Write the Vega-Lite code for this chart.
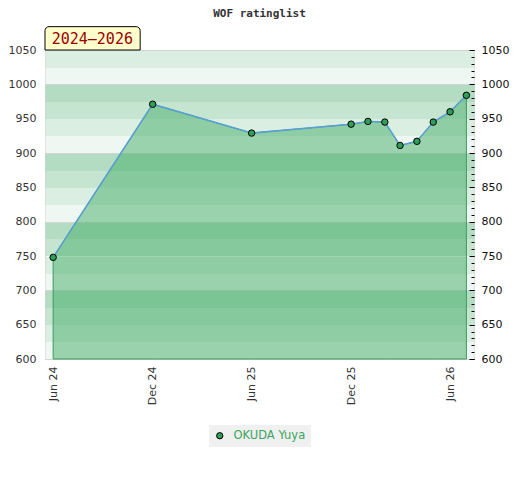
{
  "$schema": "https://vega.github.io/schema/vega-lite/v6.json",
  "width": 429,
  "height": 309,
  "autosize": "none",
  "padding": {"left": 45, "top": 50, "right": 46, "bottom": 121},
  "background": "white",
  "config": {
    "view": {"stroke": "#d0d0d0"},
    "font": "DejaVu Sans",
    "axisX": {
      "format": "%b %y",
      "labelAngle": -90,
      "labelFont": "DejaVu Sans",
      "labelFontSize": 11,
      "labelColor": "#333333",
      "labelPadding": 7,
      "ticks": false,
      "domain": false,
      "grid": false,
      "title": null
    }
  },
  "title": {
    "text": "WOF ratinglist",
    "font": "DejaVu Sans Mono",
    "fontSize": 11,
    "fontWeight": "bold",
    "color": "#333333",
    "anchor": "middle",
    "offset": 7
  },
  "data": {
    "values": [
      {"date": "2024-06-01", "rating": 748, "player": "OKUDA Yuya"},
      {"date": "2024-12-01", "rating": 971, "player": "OKUDA Yuya"},
      {"date": "2025-06-01", "rating": 929, "player": "OKUDA Yuya"},
      {"date": "2025-12-01", "rating": 942, "player": "OKUDA Yuya"},
      {"date": "2026-01-01", "rating": 946, "player": "OKUDA Yuya"},
      {"date": "2026-02-01", "rating": 945, "player": "OKUDA Yuya"},
      {"date": "2026-03-01", "rating": 911, "player": "OKUDA Yuya"},
      {"date": "2026-04-01", "rating": 917, "player": "OKUDA Yuya"},
      {"date": "2026-05-01", "rating": 945, "player": "OKUDA Yuya"},
      {"date": "2026-06-01", "rating": 960, "player": "OKUDA Yuya"},
      {"date": "2026-07-01", "rating": 984, "player": "OKUDA Yuya"}
    ]
  },
  "layer": [
    {
      "mark": {"type": "area", "fill": "#43ad68", "fillOpacity": 0.5, "stroke": "#3a9c5c", "strokeWidth": 1},
      "encoding": {
        "x": {
          "field": "date",
          "type": "temporal",
          "title": null,
          "scale": {
            "type": "utc",
            "nice": false,
            "domain": [
              {"year": 2024, "month": 5, "date": 17, "utc": true},
              {"year": 2026, "month": 7, "date": 15, "utc": true}
            ]
          },
          "axis": {
            "values": [
              {"year": 2024, "month": 6, "date": 1, "utc": true},
              {"year": 2024, "month": 12, "date": 1, "utc": true},
              {"year": 2025, "month": 6, "date": 1, "utc": true},
              {"year": 2025, "month": 12, "date": 1, "utc": true},
              {"year": 2026, "month": 6, "date": 1, "utc": true}
            ]
          }
        },
        "y": {
          "field": "rating",
          "type": "quantitative",
          "title": null,
          "scale": {"domain": [600, 1050], "nice": false, "zero": false},
          "axis": {
            "orient": "left",
            "values": [612.5, 637.5, 662.5, 687.5, 712.5, 737.5, 762.5, 787.5, 812.5, 837.5, 862.5, 887.5, 912.5, 937.5, 962.5, 987.5, 1012.5, 1037.5],
            "labels": false,
            "ticks": false,
            "domain": false,
            "grid": true,
            "gridWidth": 17.17,
            "gridOpacity": 1,
            "gridColor": {
              "condition": [
                {"test": "(datum.value - 600) % 100 == 12.5", "value": "#eef7f1"},
                {"test": "(datum.value - 600) % 100 == 37.5", "value": "#dbeee2"},
                {"test": "(datum.value - 600) % 100 == 62.5", "value": "#c6e5d1"}
              ],
              "value": "#b3dcc2"
            }
          }
        },
        "y2": {"datum": 600}
      }
    },
    {
      "mark": {"type": "line", "stroke": "#5a9fd4", "strokeWidth": 1.5},
      "encoding": {
        "x": {
          "field": "date",
          "type": "temporal",
          "title": null,
          "scale": {"type": "utc"},
          "axis": {
            "values": [
              {"year": 2024, "month": 6, "date": 1, "utc": true},
              {"year": 2024, "month": 12, "date": 1, "utc": true},
              {"year": 2025, "month": 6, "date": 1, "utc": true},
              {"year": 2025, "month": 12, "date": 1, "utc": true},
              {"year": 2026, "month": 6, "date": 1, "utc": true}
            ]
          }
        },
        "y": {
          "field": "rating",
          "type": "quantitative",
          "title": null,
          "axis": {
            "orient": "left",
            "values": [600, 650, 700, 750, 800, 850, 900, 950, 1000, 1050],
            "format": "d",
            "labelFont": "DejaVu Sans",
            "labelFontSize": 11,
            "labelColor": "#333333",
            "labelPadding": 9,
            "ticks": false,
            "domain": false,
            "grid": true,
            "gridColor": "#d2d6d3",
            "gridWidth": 1,
            "gridOpacity": {"condition": {"test": "datum.value % 100 == 0", "value": 1}, "value": 0}
          }
        }
      }
    },
    {
      "mark": {"type": "point", "filled": true, "size": 42, "stroke": "#000000", "strokeWidth": 1, "opacity": 1},
      "encoding": {
        "x": {
          "field": "date",
          "type": "temporal",
          "title": null,
          "scale": {"type": "utc"},
          "axis": {
            "values": [
              {"year": 2024, "month": 6, "date": 1, "utc": true},
              {"year": 2024, "month": 12, "date": 1, "utc": true},
              {"year": 2025, "month": 6, "date": 1, "utc": true},
              {"year": 2025, "month": 12, "date": 1, "utc": true},
              {"year": 2026, "month": 6, "date": 1, "utc": true}
            ]
          }
        },
        "y": {
          "field": "rating",
          "type": "quantitative",
          "title": null,
          "axis": {
            "orient": "right",
            "values": [600, 650, 700, 750, 800, 850, 900, 950, 1000, 1050],
            "format": "d",
            "labelFont": "DejaVu Sans",
            "labelFontSize": 11,
            "labelColor": "#111111",
            "labelPadding": 7,
            "ticks": false,
            "domain": false,
            "grid": false
          }
        },
        "color": {
          "field": "player",
          "type": "nominal",
          "scale": {"range": ["#2f9e58"]},
          "legend": {
            "title": null,
            "orient": "none",
            "legendX": 164,
            "legendY": 375,
            "fillColor": "#f0f0f0",
            "padding": 5,
            "symbolType": "circle",
            "symbolSize": 40,
            "symbolStrokeColor": "#000000",
            "symbolStrokeWidth": 1,
            "labelFont": "DejaVu Sans",
            "labelFontSize": 11.5,
            "labelColor": "#3aa55f",
            "labelOffset": 8
          }
        }
      }
    },
    {
      "data": {"values": [{"label": "2024–2026"}]},
      "mark": {"type": "rect", "fill": "#ffffcc", "stroke": "#000000", "strokeWidth": 1, "cornerRadiusTopLeft": 4, "cornerRadiusTopRight": 4, "clip": false},
      "encoding": {
        "x": {
          "datum": {"year": 2024, "month": 5, "date": 17, "utc": true},
          "type": "temporal",
          "title": null,
          "scale": {"type": "utc"},
          "axis": {
            "values": [
              {"year": 2024, "month": 6, "date": 1, "utc": true},
              {"year": 2024, "month": 12, "date": 1, "utc": true},
              {"year": 2025, "month": 6, "date": 1, "utc": true},
              {"year": 2025, "month": 12, "date": 1, "utc": true},
              {"year": 2026, "month": 6, "date": 1, "utc": true}
            ]
          }
        },
        "x2": {"datum": {"year": 2024, "month": 11, "date": 8, "utc": true}},
        "y": {
          "datum": 1050,
          "type": "quantitative",
          "axis": {
            "orient": "right",
            "values": [600, 610, 620, 630, 640, 650, 660, 670, 680, 690, 700, 710, 720, 730, 740, 750, 760, 770, 780, 790, 800, 810, 820, 830, 840, 850, 860, 870, 880, 890, 900, 910, 920, 930, 940, 950, 960, 970, 980, 990, 1000, 1010, 1020, 1030, 1040, 1050],
            "labels": false,
            "ticks": true,
            "tickSize": -3,
            "tickColor": "#000000",
            "tickWidth": 1,
            "domain": false,
            "grid": false,
            "title": null
          }
        },
        "y2": {"datum": 1084}
      }
    },
    {
      "data": {"values": [{"label": "2024–2026"}]},
      "mark": {"type": "text", "font": "DejaVu Sans Mono", "fontSize": 15, "color": "#990000", "align": "center", "baseline": "middle", "clip": false},
      "encoding": {
        "text": {"field": "label"},
        "x": {
          "datum": {"year": 2024, "month": 8, "date": 12, "utc": true},
          "type": "temporal",
          "title": null,
          "scale": {"type": "utc"},
          "axis": {
            "values": [
              {"year": 2024, "month": 6, "date": 1, "utc": true},
              {"year": 2024, "month": 12, "date": 1, "utc": true},
              {"year": 2025, "month": 6, "date": 1, "utc": true},
              {"year": 2025, "month": 12, "date": 1, "utc": true},
              {"year": 2026, "month": 6, "date": 1, "utc": true}
            ]
          }
        },
        "y": {
          "datum": 1065.5,
          "type": "quantitative",
          "axis": {
            "orient": "right",
            "values": [600, 650, 700, 750, 800, 850, 900, 950, 1000, 1050],
            "labels": false,
            "ticks": true,
            "tickSize": -5,
            "tickColor": "#000000",
            "tickWidth": 1,
            "domain": false,
            "grid": false,
            "title": null
          }
        }
      }
    }
  ],
  "resolve": {"axis": {"y": "independent"}}
}
